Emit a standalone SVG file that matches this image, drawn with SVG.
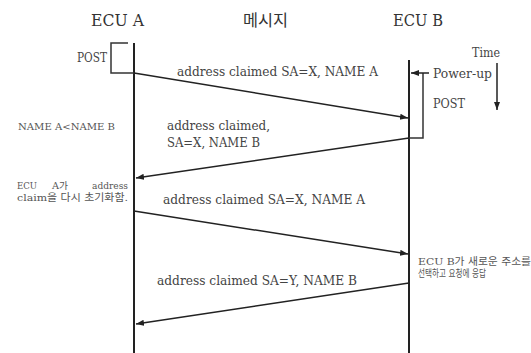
<svg xmlns="http://www.w3.org/2000/svg" width="531" height="353" viewBox="0 0 531 353">
<defs>
<marker id="ah" markerUnits="userSpaceOnUse" markerWidth="9" markerHeight="7" refX="8" refY="3" orient="auto">
<path d="M0,0 L8,3 L0,6 z" fill="#222"/>
</marker>
</defs>
<rect width="531" height="353" fill="#fff"/>
<g font-family="'DejaVu Serif', 'Liberation Serif', 'Noto Sans CJK KR', serif" fill="#444">
<g id="ecuA">
<text x="91" y="26" font-size="17" fill="#333" textLength="53" lengthAdjust="spacingAndGlyphs">ECU A</text>
<line x1="134" y1="43" x2="134" y2="353" stroke="#222" stroke-width="2"/>
<polyline points="128,43 111,43 111,73 134,73" fill="none" stroke="#333" stroke-width="1.5"/>
<text x="77" y="62" font-size="12" textLength="30" lengthAdjust="spacingAndGlyphs">POST</text>
</g>
<g id="msgTitle">
<text x="243" y="26" font-size="16" fill="#333" textLength="45" lengthAdjust="spacingAndGlyphs">메시지</text>
</g>
<g id="ecuB">
<text x="393" y="26" font-size="17" fill="#333" textLength="50" lengthAdjust="spacingAndGlyphs">ECU B</text>
<line x1="409" y1="60" x2="409" y2="353" stroke="#222" stroke-width="2"/>
<polyline points="423,73 423,138 409,138" fill="none" stroke="#333" stroke-width="1.5"/>
<text x="433" y="78" font-size="12" textLength="59" lengthAdjust="spacingAndGlyphs">Power-up</text>
<text x="433" y="108" font-size="12" textLength="32" lengthAdjust="spacingAndGlyphs">POST</text>
</g>
<g id="time">
<text x="472" y="57" font-size="12" textLength="28" lengthAdjust="spacingAndGlyphs">Time</text>
</g>
<g id="notes" fill="#555">
<text x="18" y="130" font-size="10" textLength="97" lengthAdjust="spacingAndGlyphs">NAME A&lt;NAME B</text>
<text x="17" y="189" font-size="9" textLength="20" lengthAdjust="spacingAndGlyphs">ECU</text>
<text x="52" y="189" font-size="9" textLength="16" lengthAdjust="spacingAndGlyphs">A가</text>
<text x="92" y="189" font-size="9" textLength="36" lengthAdjust="spacingAndGlyphs">address</text>
<text x="17" y="201" font-size="10" textLength="111" lengthAdjust="spacingAndGlyphs">claim을 다시 초기화함.</text>
<text x="418" y="265" font-size="10" textLength="113" lengthAdjust="spacingAndGlyphs">ECU B가 새로운 주소를</text>
<text x="418" y="277" font-size="10" textLength="68" lengthAdjust="spacingAndGlyphs">선택하고 요청에 응답</text>
</g>
<g id="connectors" fill="none" stroke="#222" stroke-width="1.5">
<line x1="429" y1="73" x2="411" y2="73" marker-end="url(#ah)"/>
<line x1="497" y1="63" x2="497" y2="110" marker-end="url(#ah)"/>
<line x1="134" y1="73" x2="408" y2="118" marker-end="url(#ah)"/>
<line x1="409" y1="138" x2="136" y2="178" marker-end="url(#ah)"/>
<line x1="134" y1="211" x2="408" y2="254" marker-end="url(#ah)"/>
<line x1="409" y1="283" x2="136" y2="324" marker-end="url(#ah)"/>
</g>
<g id="labels" font-size="13">
<text x="177" y="76" textLength="201" lengthAdjust="spacingAndGlyphs">address claimed SA=X, NAME A</text>
<text x="167" y="130" textLength="103" lengthAdjust="spacingAndGlyphs">address claimed,</text>
<text x="167" y="147" textLength="93" lengthAdjust="spacingAndGlyphs">SA=X, NAME B</text>
<text x="163" y="204" textLength="202" lengthAdjust="spacingAndGlyphs">address claimed SA=X, NAME A</text>
<text x="157" y="285" textLength="200" lengthAdjust="spacingAndGlyphs">address claimed SA=Y, NAME B</text>
</g>
</g>
</svg>
